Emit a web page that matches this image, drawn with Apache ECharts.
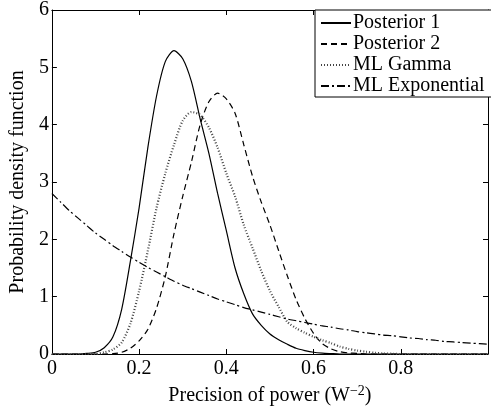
<!DOCTYPE html>
<html>
<head>
<meta charset="utf-8">
<script src="https://cdn.jsdelivr.net/npm/echarts@6/dist/echarts.min.js"></script>
<style>
  html, body { margin: 0; padding: 0; background: #fff; }
  #chart { width: 491px; height: 411px; }
</style>
</head>
<body>
<div id="chart"></div>
<script>
// x positions (precision of power), step 0.02
var xs = [0, 0.02, 0.04, 0.06, 0.08, 0.10, 0.12, 0.14, 0.16, 0.18,
  0.20, 0.22, 0.24, 0.26, 0.28, 0.30, 0.32, 0.34, 0.36, 0.38,
  0.40, 0.42, 0.44, 0.46, 0.48, 0.50, 0.52, 0.54, 0.56, 0.58,
  0.60, 0.62, 0.64, 0.66, 0.68, 0.70, 0.72, 0.74, 0.76, 0.78,
  0.80, 0.82, 0.84, 0.86, 0.88, 0.90, 0.92, 0.94, 0.96, 0.98, 1.00];

var posterior1 = [0, 0, 0, 0, 0.01, 0.03, 0.11, 0.3, 0.78, 1.62,
  2.55, 3.6, 4.5, 5.1, 5.29, 5.15, 4.75, 4.1, 3.5, 2.8,
  2.15, 1.5, 1.05, 0.7, 0.5, 0.35, 0.25, 0.17, 0.1, 0.06,
  0.03, 0.015, 0.007, 0, 0, 0, 0, 0, 0, 0,
  0, 0, 0, 0, 0, 0, 0, 0, 0, 0, 0];

var posterior2 = [0, 0, 0, 0, 0, 0, 0, 0.005, 0.03, 0.1,
  0.23, 0.43, 0.8, 1.35, 2.1, 2.75, 3.35, 4.0, 4.4, 4.55,
  4.45, 4.2, 3.65, 3.1, 2.65, 2.25, 1.8, 1.36, 0.95, 0.62,
  0.36, 0.18, 0.09, 0.04, 0.02, 0.01, 0, 0, 0, 0,
  0, 0, 0, 0, 0, 0, 0, 0, 0, 0, 0];

var mlGamma = [0, 0, 0, 0, 0, 0, 0.03, 0.08, 0.2, 0.53,
  1.1, 1.8, 2.55, 3.15, 3.65, 4.07, 4.22, 4.17, 3.95, 3.6,
  3.15, 2.75, 2.25, 1.85, 1.45, 1.1, 0.82, 0.56, 0.45, 0.37,
  0.3, 0.24, 0.19, 0.13, 0.09, 0.06, 0.04, 0.02, 0.01, 0.005,
  0, 0, 0, 0, 0, 0, 0, 0, 0, 0, 0];

var mlExponential = [2.80, 2.65, 2.50, 2.37, 2.24, 2.11, 2.00, 1.89, 1.79, 1.69,
  1.60, 1.51, 1.43, 1.35, 1.27, 1.20, 1.14, 1.08, 1.02, 0.96,
  0.91, 0.86, 0.81, 0.77, 0.73, 0.69, 0.65, 0.61, 0.58, 0.55,
  0.52, 0.49, 0.47, 0.44, 0.42, 0.39, 0.37, 0.35, 0.33, 0.32,
  0.30, 0.28, 0.27, 0.25, 0.24, 0.22, 0.21, 0.20, 0.19, 0.18, 0.17];

var seriesNames = ['Posterior 1', 'Posterior 2', 'ML Gamma', 'ML Exponential'];
var yTicks = [0, 1, 2, 3, 4, 5, 6];

var font = '"Liberation Serif", "DejaVu Serif", serif';

function pairs(ys) {
  return xs.map(function (x, i) { return [x, ys[i]]; });
}

var chart = echarts.init(document.getElementById('chart'));

var axisCommon = {
  type: 'value',
  axisLine: { show: true, onZero: false, lineStyle: { color: '#000', width: 1 } },
  axisTick: { show: true, inside: true, length: 5, lineStyle: { color: '#000' } },
  splitLine: { show: false }
};

chart.setOption({
  backgroundColor: '#fff',
  animation: false,
  grid: { left: 46, top: 5, width: 447, bottom: 57 },
  legend: {
    data: seriesNames,
    orient: 'vertical',
    left: 315,
    top: 10,
    padding: [3, 8, 1, 5],
    itemWidth: 30,
    itemHeight: 14,
    itemGap: 1,
    itemStyle: { opacity: 0 },
    backgroundColor: '#fff',
    borderColor: '#000',
    borderWidth: 1,
    textStyle: { fontFamily: font, fontSize: 20, lineHeight: 20, color: '#000', padding: [0, 0, 0, -3] }
  },
  xAxis: [
    Object.assign({}, axisCommon, {
      min: 0, max: 1, interval: 0.2, position: 'bottom',
      axisLabel: {
        margin: 5, color: '#000', fontFamily: font, fontSize: 20,
        formatter: function (v) { return v >= 1 ? '' : String(+v.toFixed(1)); }
      },
      name: 'Precision of power (W{sup|\u22122})',
      nameLocation: 'middle',
      nameGap: 30,
      nameTextStyle: {
        color: '#000', fontFamily: font, fontSize: 20,
        rich: { sup: { fontFamily: font, fontSize: 14, verticalAlign: 'top', padding: [0, 0, 10, 0], color: '#000' } }
      }
    }),
    Object.assign({}, axisCommon, {
      min: 0, max: 1, interval: 0.2, position: 'top',
      axisLabel: { show: false }
    })
  ],
  yAxis: [
    Object.assign({}, axisCommon, {
      min: yTicks[0], max: yTicks[yTicks.length - 1], interval: 1, position: 'left',
      axisLabel: { margin: 3, color: '#000', fontFamily: font, fontSize: 20 },
      name: 'Probability density function',
      nameLocation: 'middle',
      nameGap: 18,
      nameTextStyle: { color: '#000', fontFamily: font, fontSize: 20 }
    }),
    Object.assign({}, axisCommon, {
      min: yTicks[0], max: yTicks[yTicks.length - 1], interval: 1, position: 'right',
      axisLabel: { show: false }
    })
  ],
  series: [
    {
      name: seriesNames[0], type: 'line', data: pairs(posterior1), smooth: 0.25,
      showSymbol: false, symbol: 'none', color: '#000',
      lineStyle: { color: '#000', width: 1.2, type: 'solid' }
    },
    {
      name: seriesNames[1], type: 'line', data: pairs(posterior2), smooth: 0.25,
      showSymbol: false, symbol: 'none', color: '#000',
      lineStyle: { color: '#000', width: 1.2, type: [6, 4] }
    },
    {
      name: seriesNames[2], type: 'line', data: pairs(mlGamma), smooth: 0.25,
      showSymbol: false, symbol: 'none', color: '#444',
      lineStyle: { color: '#444', width: 2.2, type: [1, 2] }
    },
    {
      name: seriesNames[3], type: 'line', data: pairs(mlExponential), smooth: 0.25,
      showSymbol: false, symbol: 'none', color: '#000',
      lineStyle: { color: '#000', width: 1.2, type: [8, 3, 2, 3] }
    }
  ]
});
</script>
</body>
</html>
